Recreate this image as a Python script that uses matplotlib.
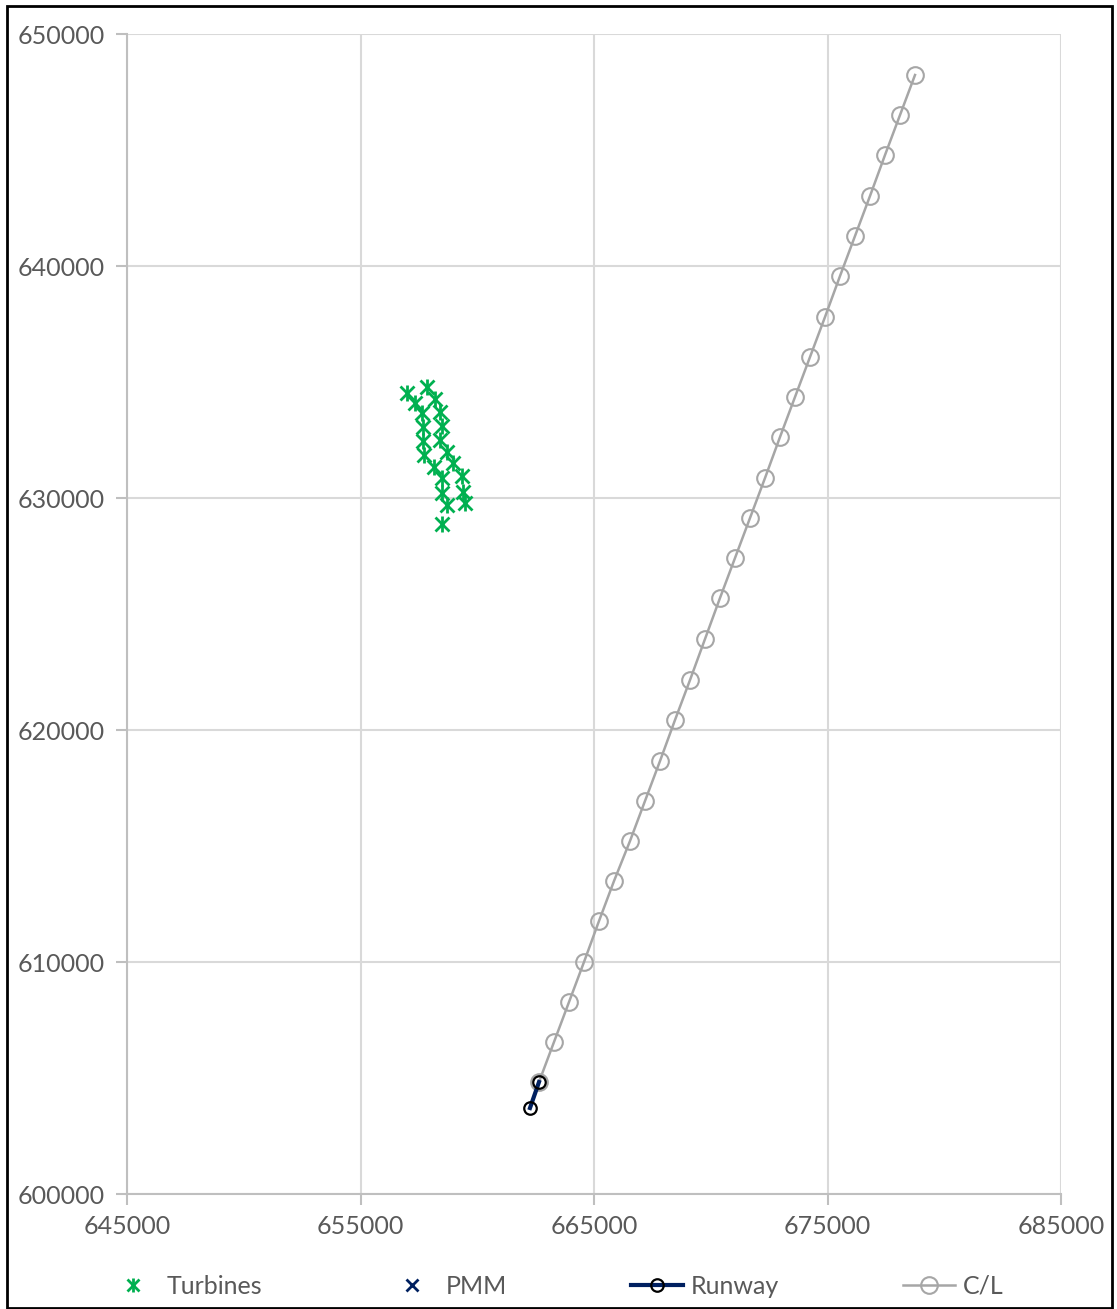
import matplotlib.pyplot as plt
from matplotlib.patches import Rectangle

# turbines (easting, northing)
turb_x = [657004, 657835, 657334, 658191, 657621, 658405, 657690, 658478, 657664, 658405,
          657733, 658692, 658161, 658975, 658504, 659334, 658504, 659377, 658692, 659488, 658478]
turb_y = [634539, 634798, 634082, 634254, 633677, 633720, 633074, 633103, 632457, 632500,
          631853, 631996, 631349, 631496, 630849, 630948, 630229, 630272, 629698, 629771, 628879]

pmm_x = []
pmm_y = []

runway_x = [662259, 662645]
runway_y = [603707, 604828]

cl_x = [678748, 678106, 677463, 676820, 676178, 675536, 674893, 674251, 673608, 672966,
        672324, 671681, 671039, 670396, 669754, 669112, 668469, 667827, 667184, 666542,
        665857, 665214, 664572, 663930, 663287, 662645]
cl_y = [648233, 646509, 644784, 643017, 641293, 639569, 637802, 636078, 634353, 632629,
        630862, 629138, 627414, 625690, 623922, 622155, 620431, 618664, 616940, 615216,
        613491, 611767, 610000, 608276, 606552, 604828]

xticks = [645000, 655000, 665000, 675000, 685000]
yticks = [600000, 610000, 620000, 630000, 640000, 650000]

plt.rcParams['font.family'] = ['Lato', 'DejaVu Sans']
txt = '#595959'
grid = '#d9d9d9'
green = '#00b050'
navy = '#002060'

fig = plt.figure(figsize=(11.17, 13.09), dpi=100)
ax = fig.add_axes([127 / 1117, 1 - 1194 / 1309, (1061 - 127) / 1117, (1194 - 34) / 1309])

# C/L
ax.plot(cl_x, cl_y, color='#a6a6a6', lw=1.8, marker='o', ms=12, mfc='none',
        mec='#a6a6a6', mew=1.5, label='C/L', zorder=3)
# Runway
ax.plot(runway_x, runway_y, color=navy, lw=3, marker='o', ms=9, mfc='none',
        mec='black', mew=1.6, label='Runway', zorder=4)
# PMM
ax.plot(pmm_x, pmm_y, ls='none', marker='x', ms=9, color=navy, mew=2, label='PMM')
# Turbines: excel star = x + vertical bar
ax.plot(turb_x, turb_y, ls='none', marker='x', ms=10, color=green, mew=2, zorder=5)
ax.plot(turb_x, turb_y, ls='none', marker='|', ms=12, color=green, mew=2, zorder=5)
h_tx, = ax.plot([], [], ls='none', marker='x', ms=8, color=green, mew=2)
h_tv, = ax.plot([], [], ls='none', marker='|', ms=10, color=green, mew=2)

ax.set_xlim(645000, 685000)
ax.set_ylim(600000, 650000)
ax.set_xticks(xticks)
ax.set_yticks(yticks)
ax.grid(True, color=grid, lw=1.5)
ax.set_axisbelow(True)
for s in ['top', 'right']:
    ax.spines[s].set_visible(False)
for s in ['left', 'bottom']:
    ax.spines[s].set_color('#bfbfbf')
    ax.spines[s].set_linewidth(1.5)
ax.tick_params(colors='#bfbfbf', labelcolor=txt, labelsize=18, length=8, width=1.5)
ax.tick_params(axis='y', pad=8)
ax.tick_params(axis='x', pad=7)

hs, ls = ax.get_legend_handles_labels()
handles = [(h_tx, h_tv), hs[2], hs[1], hs[0]]
labels = ['Turbines', 'PMM', 'Runway', 'C/L']
leg = fig.legend(handles, labels, loc='center', bbox_to_anchor=(0.497, 1 - 1286 / 1309),
                 ncol=4, frameon=False, fontsize=18, labelcolor=txt,
                 columnspacing=4.95, handlelength=2.1, handletextpad=0.3)

fig.patches.append(Rectangle((7 / 1117, 1 / 1309), 1105 / 1117, 1302 / 1309,
                             transform=fig.transFigure, fill=False, ec='black', lw=2))

fig.savefig('out.png', dpi=100)
